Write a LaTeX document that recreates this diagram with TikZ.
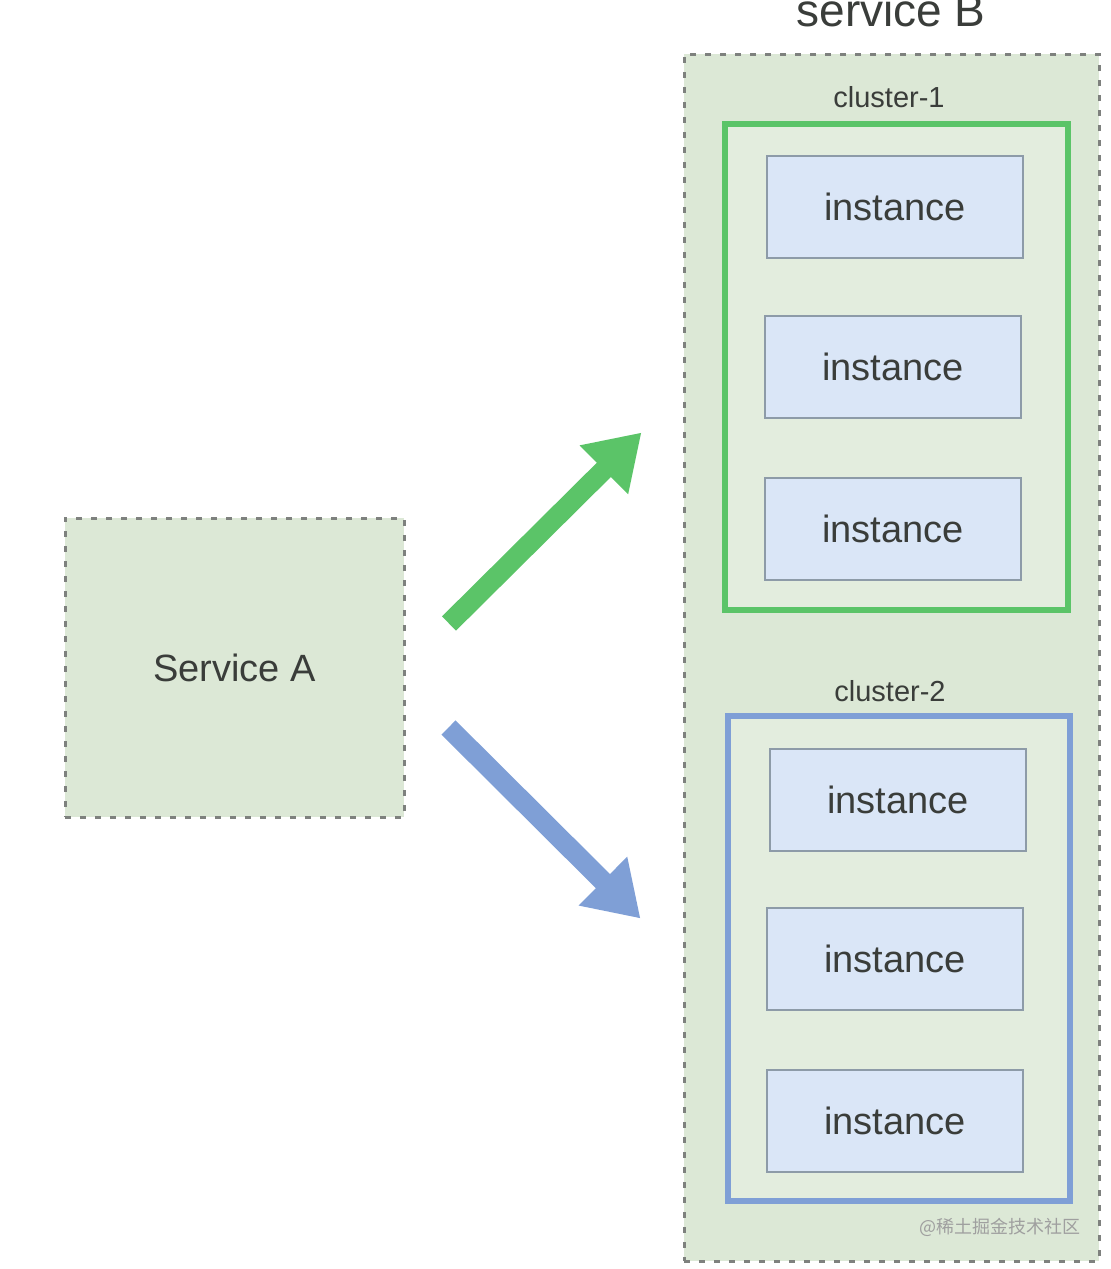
\documentclass[tikz,border=0pt]{standalone}
\usepackage{fontspec}
\setmainfont{Liberation Sans}
\newfontfamily\cjk{Noto Sans CJK SC}
\usepackage{tikz}
\usetikzlibrary{arrows.meta}

\definecolor{sagefill}{HTML}{DCE8D6}
\definecolor{boxgray}{HTML}{7E817E}
\definecolor{clgreen}{HTML}{5BC468}
\definecolor{clblue}{HTML}{7F9FD6}
\definecolor{instfill}{HTML}{DAE6F7}
\definecolor{instline}{HTML}{8D9BA8}
\definecolor{txtgray}{HTML}{3A3D3A}

\tikzset{
  svcbox/.style={draw=boxgray,fill=sagefill,line width=3pt,dash pattern=on 6pt off 9pt,rectangle},
  clbox/.style={rectangle,line width=6pt,fill=sagefill!80!white},
  instbox/.style={rectangle,draw=instline,fill=instfill,line width=2pt,minimum width=256pt,minimum height=102pt,
    text=txtgray,font=\fontsize{38}{40}\selectfont},
  cllabel/.style={anchor=base,text=txtgray,font=\fontsize{29}{31}\selectfont},
  fatarrow/.style={line width=20pt,-{Triangle[length=53pt,width=65pt]}}
}

\begin{document}
\begin{tikzpicture}[x=1pt,y=-1pt]
\useasboundingbox (0,0) rectangle (1111,1269);

% service B with its two clusters
\node (SB)[svcbox,minimum width=415pt,minimum height=1207pt] at (891.5,657.5) {};
\node (SBt)[anchor=base,text=txtgray,font=\fontsize{46}{48}\selectfont] at (891,26) {service B};

\node (C1)[clbox,draw=clgreen,minimum width=343pt,minimum height=486pt] at (896.5,367) {};
\node (C1t)[cllabel] at (889,107) {cluster-1};
\node (I11)[instbox] at (895,207) {instance};
\node (I12)[instbox] at (893,367) {instance};
\node (I13)[instbox] at (893,529) {instance};

\node (C2)[clbox,draw=clblue,minimum width=342pt,minimum height=485pt] at (899,958.5) {};
\node (C2t)[cllabel] at (890,701) {cluster-2};
\node (I21)[instbox] at (898,799.5) {instance};
\node (I22)[instbox] at (895,958.5) {instance};
\node (I23)[instbox] at (895,1120.5) {instance};

% service A
\node (SA)[svcbox,minimum width=339pt,minimum height=299pt,text=txtgray,font=\fontsize{38}{40}\selectfont] at (234.5,667.5) {Service A};

% calls from A to the clusters
\coordinate (gs) at (449,623.5);
\coordinate (ge) at (641.5,432.5);
\coordinate (bs) at (448.5,727.5);
\coordinate (be) at (640.5,918.5);
\draw[fatarrow,draw=clgreen,fill=clgreen] (gs)--(ge);
\draw[fatarrow,draw=clblue,fill=clblue] (bs)--(be);

\node (WM)[text=gray!75,font=\cjk\fontsize{18}{20}\selectfont] at (1000,1227) {@稀土掘金技术社区};
\end{tikzpicture}
\end{document}
